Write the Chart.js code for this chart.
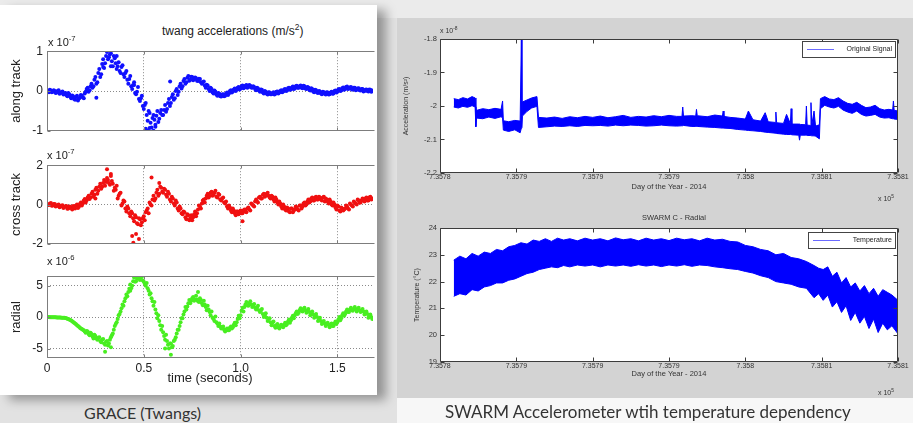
<!DOCTYPE html>
<html lang="en">
<head>
<meta charset="UTF-8">
<title>GRACE twangs and SWARM accelerometer</title>
<script src="https://cdn.jsdelivr.net/npm/chart.js"></script>
<style>
  body { margin: 0; width: 913px; height: 423px; position: relative; overflow: hidden;
         background: #e2e2e2; font-family: "Liberation Sans", Arial, sans-serif; }
  .topband { position: absolute; left: 0; top: 0; width: 913px; height: 18px; background: #ebebeb; }
  .card { position: absolute; left: 0; top: 5px; width: 377px; height: 390px; background: #fff;
          box-shadow: 9px 5px 10px rgba(0,0,0,0.35); }
  .panel { position: absolute; left: 397px; top: 18px; width: 516px; height: 380px; background: #d3d3d3; }
  .lowright { position: absolute; left: 397px; top: 398px; width: 516px; height: 25px; background: #f7f7f7; }
  canvas { position: absolute; }
  .txt { position: absolute; white-space: nowrap; color: #222; line-height: 1; }
  .txt sup { font-size: 70%; vertical-align: 0.6em; line-height: 0; }
  .cap { position: absolute; white-space: nowrap; color: #333; font-family: Lato, "Open Sans", sans-serif; }
</style>
</head>
<body>
<div class="topband"></div>
<div class="card"></div>
<div class="panel"></div>
<div class="lowright"></div>

<canvas id="cAlong" width="377" height="102" style="left:0;top:40px"></canvas>
<canvas id="cCross" width="377" height="101" style="left:0;top:154px"></canvas>
<canvas id="cRadial" width="377" height="130" style="left:0;top:265px"></canvas>
<canvas id="cAcc" width="516" height="192" style="left:397px;top:18px"></canvas>
<canvas id="cTemp" width="516" height="188" style="left:397px;top:210px"></canvas>

<div class="txt" style="left:162px;top:25px;font-size:12px">twang accelerations (m/s<sup>2</sup>)</div>
<div class="txt" style="left:48px;top:37px;font-size:11px">x 10<sup>-7</sup></div>
<div class="txt" style="left:47px;top:150px;font-size:11px">x 10<sup>-7</sup></div>
<div class="txt" style="left:47px;top:256px;font-size:11px">x 10<sup>-6</sup></div>
<div class="txt" style="left:440px;top:27px;font-size:7px;color:#333">x 10<sup>-8</sup></div>
<div class="txt" style="left:878px;top:195px;font-size:7px;color:#333">x 10<sup>5</sup></div>
<div class="txt" style="left:642px;top:214px;font-size:7.5px;color:#333">SWARM C - Radial</div>
<div class="txt" style="left:878px;top:389px;font-size:7px;color:#333">x 10<sup>5</sup></div>
<div class="cap" style="left:84px;top:403px;font-size:16px">GRACE (Twangs)</div>
<div class="cap" style="left:445px;top:401px;font-size:17px">SWARM Accelerometer wtih temperature dependency</div>

<script>
// ---- GRACE twangs (units of the x10^n label) ----
// main samples every 0.01 s, second pass at the half steps
const sampleStep = 0.01;
const timeRange = [0, 1.684];
const timeTicks = [0, 0.5, 1, 1.5];

const along = [
  0.02,-0.03,0.01,-0.02,0.00,-0.04,0.02,-0.05,-0.01,-0.06,
  -0.10,-0.05,-0.14,-0.11,-0.20,-0.15,-0.24,-0.17,-0.12,-0.18,
  -0.02,0.08,0.02,0.18,0.12,0.35,0.22,0.55,0.42,0.80,
  0.70,0.98,0.85,0.95,0.62,0.82,0.55,0.72,0.45,0.65,
  0.35,0.50,0.18,0.38,0.05,0.22,-0.08,0.10,-0.25,-0.12,
  -0.45,-0.30,-0.75,-0.55,-0.92,-0.60,-0.85,-0.50,-0.70,-0.48,
  -0.60,-0.35,-0.45,-0.20,-0.30,-0.08,-0.18,0.05,-0.02,0.18,
  0.12,0.30,0.22,0.38,0.28,0.35,0.30,0.32,0.25,0.30,
  0.18,0.24,0.08,0.14,0.00,0.05,-0.06,-0.02,-0.12,-0.07,
  -0.14,-0.08,-0.12,-0.04,-0.06,0.02,-0.01,0.06,0.03,0.10,
  0.06,0.14,0.09,0.15,0.10,0.13,0.08,0.10,0.02,0.06,
  -0.02,0.03,-0.06,-0.02,-0.09,-0.04,-0.08,-0.03,-0.07,-0.01,
  -0.04,0.02,-0.01,0.05,0.01,0.08,0.04,0.11,0.06,0.13,
  0.08,0.14,0.07,0.12,0.05,0.09,0.01,0.05,-0.03,0.02,
  -0.05,-0.01,-0.08,-0.03,-0.09,-0.04,-0.08,-0.02,-0.06,0.01,
  -0.02,0.05,0.01,0.09,0.05,0.11,0.06,0.10,0.04,0.08,
  0.03,0.07,0.01,0.05,0.00,0.04,-0.01,0.03,0.01
];
const alongHalf = [
  -0.01,0.03,-0.03,0.02,-0.05,0.00,-0.07,-0.03,-0.09,-0.05,
  -0.13,-0.08,-0.18,-0.13,-0.22,-0.12,-0.19,-0.10,-0.16,-0.06,
  0.05,-0.02,0.12,0.08,0.28,0.18,0.45,0.35,0.68,0.58,
  0.88,0.80,0.92,0.75,0.88,0.70,0.62,0.50,0.60,0.42,
  0.45,0.28,0.30,0.12,0.15,-0.05,-0.02,-0.20,-0.18,-0.38,
  -0.35,-0.60,-0.50,-0.80,-0.68,-0.72,-0.62,-0.78,-0.55,-0.60,
  -0.48,-0.52,-0.30,-0.38,-0.15,-0.22,0.00,-0.10,0.12,0.06,
  0.25,0.18,0.33,0.26,0.36,0.27,0.34,0.26,0.31,0.22,
  0.22,0.14,0.16,0.05,0.08,-0.03,0.01,-0.09,-0.05,-0.13,
  -0.09,-0.13,-0.06,-0.10,0.00,-0.04,0.04,0.00,0.08,0.04,
  0.12,0.07,0.13,0.08,0.15,0.09,0.12,0.05,0.08,0.01,
  0.04,-0.04,0.00,-0.07,-0.03,-0.08,-0.05,-0.09,-0.02,-0.06,
  0.00,-0.03,0.04,0.00,0.07,0.03,0.09,0.05,0.12,0.08,
  0.12,0.08,0.13,0.06,0.10,0.03,0.07,-0.01,0.03,-0.04,
  0.00,-0.06,-0.02,-0.07,-0.03,-0.09,-0.04,-0.07,0.00,-0.04,
  0.04,0.00,0.07,0.03,0.10,0.05,0.09,0.04,0.08,0.02,
  0.06,0.02,0.05,-0.01,0.03,0.00,0.04,-0.02
];
const alongOutT = [0.255, 0.29, 0.33, 0.36, 0.45, 0.51, 0.52, 0.53, 0.55, 0.56, 0.636];
const alongOutV = [-0.17, 0.60, 0.62, 0.88, 0.15, -0.95, -1.00, -0.93, -1.00, -0.90, 0.24];

const cross = [
  0.05,-0.02,0.08,-0.05,0.02,-0.08,0.00,-0.10,-0.04,-0.12,
  -0.08,-0.20,-0.12,-0.25,-0.15,-0.05,-0.18,0.02,-0.05,0.20,
  0.10,0.35,0.28,0.55,0.40,0.75,0.55,0.90,0.80,1.10,
  0.95,1.35,1.10,1.45,1.05,0.85,0.95,0.45,0.60,0.05,
  0.15,-0.35,-0.20,-0.60,-0.45,-0.85,-0.65,-1.00,-0.75,-0.90,
  -0.60,-0.40,-0.20,0.10,-0.05,0.45,0.30,0.75,0.55,0.85,
  0.60,0.75,0.40,0.55,0.15,0.30,-0.05,0.10,-0.30,-0.20,
  -0.50,-0.40,-0.75,-0.55,-0.70,-0.80,-0.50,-0.60,-0.25,-0.10,
  0.05,0.25,0.30,0.55,0.45,0.65,0.50,0.70,0.35,0.50,
  0.20,0.35,0.05,-0.10,-0.05,-0.30,-0.20,-0.45,-0.35,-0.50,
  -0.30,-0.45,-0.25,-0.40,-0.15,-0.30,0.00,-0.10,0.25,0.10,
  0.40,0.30,0.55,0.45,0.60,0.35,0.45,0.25,0.35,0.10,
  0.15,-0.10,0.00,-0.25,-0.15,-0.35,-0.20,-0.40,-0.25,-0.15,
  -0.30,-0.05,-0.10,0.10,0.00,0.25,0.15,0.35,0.20,0.40,
  0.25,0.35,0.20,0.40,0.30,0.15,0.25,0.00,0.10,-0.15,
  -0.05,-0.30,-0.15,-0.30,-0.20,-0.10,-0.25,0.00,-0.10,0.10,
  0.00,0.20,0.10,0.30,0.15,0.35,0.20,0.40,0.30
];
const crossHalf = [
  -0.03,0.04,-0.06,0.03,-0.10,-0.02,-0.14,-0.06,-0.18,-0.10,
  -0.22,-0.10,-0.18,-0.08,-0.20,0.00,-0.12,0.10,0.05,0.28,
  0.22,0.45,0.35,0.65,0.50,0.85,0.70,1.05,0.90,1.25,
  1.15,1.25,1.00,1.20,0.70,0.75,0.30,0.55,-0.05,0.20,
  -0.20,-0.10,-0.45,-0.35,-0.70,-0.55,-0.95,-0.70,-1.05,-0.70,
  -0.80,-0.30,-0.45,0.00,0.25,0.20,0.60,0.45,0.90,0.65,
  0.80,0.50,0.65,0.25,0.40,0.05,0.20,-0.20,-0.10,-0.45,
  -0.35,-0.65,-0.50,-0.80,-0.55,-0.65,-0.35,-0.45,-0.05,-0.20,
  0.20,0.10,0.45,0.35,0.60,0.45,0.60,0.40,0.55,0.25,
  0.30,0.10,0.15,-0.20,-0.15,-0.40,-0.30,-0.55,-0.35,-0.40,
  -0.45,-0.30,-0.35,-0.20,-0.25,0.05,-0.05,0.15,0.15,0.35,
  0.30,0.50,0.40,0.55,0.45,0.30,0.40,0.15,0.25,0.00,
  0.05,-0.20,-0.10,-0.30,-0.20,-0.40,-0.20,-0.30,-0.10,-0.25,
  -0.05,-0.20,0.05,-0.05,0.15,0.10,0.30,0.20,0.35,0.25,
  0.40,0.25,0.35,0.15,0.25,0.05,0.15,-0.05,0.00,-0.25,
  -0.10,-0.35,-0.20,-0.25,-0.05,-0.20,0.05,-0.05,0.15,0.05,
  0.25,0.10,0.20,0.25,0.30,0.20,0.35,0.25
];
const crossOutT = [0.25, 0.31, 0.33, 0.44, 0.446, 0.46, 0.475, 0.54, 0.58, 1.01];
const crossOutV = [0.30, 1.80, 1.55, -1.60, -1.95, -1.50, -1.75, 1.38, 1.10, -0.85];

const radial = [
  0.00,0.00,-0.02,-0.02,-0.03,-0.05,-0.05,-0.08,-0.10,-0.12,
  -0.20,-0.30,-0.45,-0.65,-0.90,-1.15,-1.40,-1.70,-1.90,-2.10,
  -2.50,-2.30,-2.90,-2.70,-3.40,-3.00,-3.60,-3.20,-4.00,-3.50,
  -4.40,-3.80,-4.20,-3.20,-2.60,-1.40,-0.80,0.30,0.90,2.00,
  2.50,3.60,4.00,5.20,5.00,6.30,5.70,6.50,5.90,6.40,
  5.60,5.00,4.60,3.60,3.00,1.80,1.20,-0.20,-0.60,-2.00,
  -2.40,-3.60,-3.80,-5.00,-4.20,-4.60,-3.60,-2.60,-2.00,-0.80,
  -0.20,0.90,1.20,2.20,2.20,3.00,2.60,3.40,2.50,3.00,
  2.20,2.60,1.60,1.80,0.80,0.90,-0.30,0.10,-1.00,-1.00,
  -1.80,-1.50,-2.30,-1.80,-2.10,-1.50,-1.60,-0.90,-0.80,0.20,
  0.30,1.50,1.60,2.40,1.80,2.50,1.60,2.10,1.20,1.80,
  0.80,1.30,0.00,0.60,-0.60,-0.20,-1.30,-0.70,-1.70,-1.10,
  -1.80,-1.20,-1.60,-0.90,-1.10,-0.40,-0.50,0.20,0.30,0.90,
  0.70,1.40,0.90,1.50,0.70,1.30,0.30,0.90,-0.10,0.50,
  -0.60,-0.10,-1.10,-0.60,-1.40,-0.90,-1.60,-1.00,-1.40,-0.70,
  -0.80,0.00,-0.20,0.60,0.50,1.20,0.80,1.50,1.00,1.60,
  0.90,1.50,0.80,1.30,0.40,0.90,-0.10,0.40,-0.30
];
const radialHalf = [
  0.00,-0.01,-0.01,-0.03,-0.04,-0.05,-0.07,-0.09,-0.11,-0.15,
  -0.25,-0.38,-0.55,-0.78,-1.02,-1.28,-1.55,-1.80,-2.00,-2.30,
  -2.20,-2.70,-2.50,-3.10,-2.80,-3.40,-3.30,-3.80,-3.60,-4.20,
  -3.90,-4.50,-3.60,-2.90,-2.00,-1.10,-0.30,0.50,1.40,1.80,
  3.00,3.30,4.50,4.60,5.70,5.60,6.10,6.20,6.30,5.80,
  5.30,5.40,4.20,3.80,2.50,2.40,0.60,0.30,-1.30,-1.40,
  -3.00,-2.80,-4.40,-4.20,-4.80,-3.80,-3.20,-2.00,-1.40,-0.20,
  0.40,1.60,1.70,2.70,2.60,3.20,2.80,2.80,2.40,2.70,
  1.90,2.00,1.10,1.20,0.30,-0.10,-0.60,-0.80,-1.40,-1.50,
  -1.60,-2.00,-2.00,-2.10,-1.70,-1.80,-1.20,-1.30,-0.30,-0.20,
  1.00,0.90,2.00,1.90,2.20,2.00,1.90,1.50,1.50,1.10,
  1.00,0.50,0.30,-0.10,-0.30,-0.80,-0.90,-1.40,-1.30,-1.60,
  -1.40,-1.50,-1.20,-1.30,-0.70,-0.90,-0.10,-0.20,0.60,0.50,
  1.10,1.00,1.30,1.10,1.00,0.80,0.60,0.40,0.20,0.00,
  -0.40,-0.60,-0.80,-1.00,-1.10,-1.20,-1.30,-1.40,-1.00,-1.10,
  -0.40,-0.50,0.30,0.20,0.90,0.80,1.20,1.10,1.30,1.30,
  1.20,1.10,1.00,0.90,0.60,0.50,0.10,0.00
];
const radialOutT = [0.30, 0.33, 0.43, 0.61, 0.64, 0.78];
const radialOutV = [-5.50, -4.80, 4.20, -5.00, -6.00, 4.00];

// ---- SWARM C, day of year as datenum minus 735000 ----
const dayTicks = [780, 785, 790, 795, 800, 805, 810];
const dayTickLabels = ['7.3578', '7.3579', '7.3579', '7.3579', '7.358', '7.3581', '7.3581'];

const accDays = [
  780.9, 781.2, 781.5, 781.8, 782.1, 782.3,
  782.35, 782.4, 782.8, 783.2, 783.6, 784.0, 784.1,
  784.15, 784.5, 784.9, 785.25, 785.33, 785.37,
  785.4, 785.7, 786.0, 786.35,
  786.45, 787.0, 787.5, 788.0, 788.5, 789.0, 789.5, 790.0, 790.5, 791.0,
  791.5, 792.0, 792.5, 793.0, 793.5, 794.0, 794.5, 795.0, 795.5, 795.85,
  795.9, 795.95, 796.5, 796.75, 796.8, 796.85, 797.5, 798.0, 798.5, 798.55,
  798.6, 799.0, 799.5, 800.0, 800.2, 800.5, 801.0, 801.3, 801.5, 801.95,
  802.0, 802.05, 802.5, 802.7, 802.95, 803.0, 803.05, 803.5, 803.55, 803.6,
  803.95, 804.0, 804.05, 804.25, 804.3, 804.35, 804.5, 804.6, 804.85,
  804.92, 805.2, 805.5, 805.8, 806.1, 806.4, 806.7, 807.0, 807.3, 807.6,
  807.9, 808.2, 808.5, 808.8, 809.1, 809.4, 809.65, 809.7, 809.75, 810.0
];
const accHigh = [
  -1.978, -1.981, -1.975, -1.979, -1.972, -1.976,
  -2.012, -2.013, -2.008, -2.011, -2.007, -2.010, -1.985,
  -2.044, -2.047, -2.043, -2.045, -1.800, -2.020,
  -1.988, -1.982, -1.976, -1.972,
  -2.034, -2.036, -2.033, -2.037, -2.032, -2.035, -2.031, -2.034, -2.030, -2.035,
  -2.032, -2.028, -2.034, -2.031, -2.033, -2.029, -2.032, -2.028, -2.031, -2.031,
  -2.003, -2.030, -2.029, -2.030, -2.010, -2.029, -2.032, -2.027, -2.030, -2.015,
  -2.031, -2.034, -2.036, -2.039, -2.015, -2.041, -2.045, -2.020, -2.047, -2.049,
  -2.018, -2.050, -2.052, -2.025, -2.053, -2.008, -2.054, -2.054, -2.054, -2.055,
  -2.056, -2.000, -2.057, -2.058, -1.990, -2.058, -2.015, -2.060, -2.056,
  -1.978, -1.972, -1.979, -1.981, -1.975, -1.985, -1.992, -1.995, -1.989, -1.998,
  -2.005, -2.003, -1.998, -2.008, -2.012, -2.010, -2.012, -1.985, -2.013, -2.015
];
const accLow = [
  -2.003, -2.006, -2.001, -2.004, -1.999, -2.003,
  -2.062, -2.036, -2.038, -2.033, -2.037, -2.032, -2.036,
  -2.072, -2.076, -2.071, -2.080, -2.066, -2.064,
  -2.030, -2.016, -2.006, -2.001,
  -2.064, -2.062, -2.060, -2.061, -2.059, -2.061, -2.058, -2.059, -2.058, -2.060,
  -2.057, -2.059, -2.057, -2.058, -2.060, -2.059, -2.057, -2.059, -2.060, -2.059,
  -2.059, -2.058, -2.061, -2.061, -2.061, -2.061, -2.063, -2.064, -2.066, -2.066,
  -2.066, -2.067, -2.070, -2.072, -2.073, -2.074, -2.076, -2.078, -2.079, -2.081,
  -2.081, -2.082, -2.084, -2.085, -2.085, -2.085, -2.086, -2.087, -2.102, -2.087,
  -2.087, -2.087, -2.088, -2.088, -2.088, -2.089, -2.089, -2.090, -2.098,
  -2.008, -1.998, -2.003, -2.006, -2.001, -2.012, -2.018, -2.022, -2.015, -2.025,
  -2.030, -2.028, -2.025, -2.033, -2.036, -2.035, -2.038, -2.038, -2.039, -2.040
];
const accTicks = [-2.2, -2.1, -2, -1.9, -1.8];

const tempDays = [
  780.9, 781.3, 781.7, 782.1, 782.5, 782.9, 783.3, 783.7, 784.1, 784.5,
  784.9, 785.3, 785.7, 786.1, 786.5, 786.9, 787.3, 787.7, 788.1, 788.5,
  789.0, 789.5, 790.0, 790.5, 791.0, 791.5, 792.0, 792.5, 793.0, 793.5,
  794.0, 794.5, 795.0, 795.5, 796.0, 796.5, 797.0, 797.5, 798.0, 798.5,
  799.0, 799.5, 800.0, 800.5, 801.0, 801.5, 802.0, 802.5, 803.0, 803.5,
  804.0, 804.5, 804.8, 805.1, 805.4, 805.7, 806.0, 806.3, 806.6, 806.9,
  807.2, 807.5, 807.8, 808.1, 808.4, 808.7, 809.0, 809.3, 809.6, 810.0
];
const tempHigh = [
  22.80, 22.95, 22.85, 23.05, 22.95, 23.10, 23.05, 23.20, 23.15, 23.30,
  23.35, 23.45, 23.40, 23.55, 23.50, 23.60, 23.50, 23.62, 23.55, 23.60,
  23.52, 23.62, 23.55, 23.60, 23.52, 23.63, 23.56, 23.60, 23.52, 23.62,
  23.55, 23.60, 23.53, 23.62, 23.56, 23.60, 23.52, 23.62, 23.55, 23.58,
  23.50, 23.48, 23.35, 23.30, 23.20, 23.15, 23.00, 23.05, 22.90, 22.85,
  22.75, 22.60, 22.50, 22.45, 22.55, 22.20, 22.35, 21.95, 22.15, 21.80,
  21.95, 21.65, 21.85, 21.55, 21.75, 21.45, 21.70, 21.60, 21.50, 21.30
];
const tempLow = [
  21.45, 21.55, 21.50, 21.70, 21.65, 21.80, 21.85, 21.95, 21.95, 22.05,
  22.10, 22.20, 22.30, 22.35, 22.45, 22.50, 22.55, 22.52, 22.60, 22.55,
  22.62, 22.58, 22.62, 22.55, 22.62, 22.58, 22.62, 22.57, 22.63, 22.58,
  22.62, 22.56, 22.62, 22.58, 22.63, 22.57, 22.62, 22.60, 22.55, 22.52,
  22.48, 22.45, 22.38, 22.32, 22.22, 22.15, 22.00, 21.95, 21.90, 21.80,
  21.75, 21.40, 21.55, 21.30, 21.50, 21.05, 21.25, 20.85, 21.10, 20.55,
  20.85, 20.45, 20.70, 20.25, 20.60, 20.10, 20.45, 20.20, 20.35, 20.05
];
const tempTicks = [19, 20, 21, 22, 23, 24];

Chart.defaults.font.family = '"Liberation Sans", Arial, sans-serif';

// MATLAB-like box with inward tick marks, plus white plot background
const frame = {
  id: 'frame',
  beforeDraw(chart) {
    const {ctx, chartArea: a} = chart;
    ctx.save();
    ctx.fillStyle = '#fff';
    ctx.fillRect(a.left, a.top, a.right - a.left, a.bottom - a.top);
    ctx.restore();
  },
  afterDatasetsDraw(chart, args, o) {
    const {ctx, chartArea: a, scales: {x, y}} = chart;
    const L = Math.round(a.left) + 0.5, R = Math.round(a.right) - 0.5;
    const T = Math.round(a.top) + 0.5, B = Math.round(a.bottom) - 0.5;
    ctx.save();
    ctx.strokeStyle = o.color;
    ctx.lineWidth = 1;
    ctx.beginPath();
    ctx.moveTo(R + (o.right ? 0 : 2), T); ctx.lineTo(L, T); ctx.lineTo(L, B); ctx.lineTo(R + (o.right ? 0 : 2), B);
    if (o.right) { ctx.lineTo(R, T); }
    x.ticks.forEach(t => {
      const px = Math.round(x.getPixelForValue(t.value)) + 0.5;
      ctx.moveTo(px, B); ctx.lineTo(px, B - o.tick);
      ctx.moveTo(px, T); ctx.lineTo(px, T + o.tick);
    });
    y.ticks.forEach(t => {
      const py = Math.round(y.getPixelForValue(t.value)) + 0.5;
      ctx.moveTo(L, py); ctx.lineTo(L + o.tick, py);
      if (o.right) { ctx.moveTo(R, py); ctx.lineTo(R - o.tick, py); }
    });
    ctx.stroke();
    ctx.restore();
  }
};

// boxed legend in the top right corner of the plot
const boxLegend = {
  id: 'boxLegend',
  afterDraw(chart, args, o) {
    if (!o.width) return;
    const {ctx, chartArea: a} = chart;
    const x2 = Math.round(a.right) - o.dx, x1 = x2 - o.width;
    const y1 = Math.round(a.top) + o.dy, h = 16, ym = y1 + h / 2;
    ctx.save();
    ctx.fillStyle = '#fff';
    ctx.fillRect(x1, y1, o.width, h);
    ctx.strokeStyle = '#444';
    ctx.lineWidth = 1;
    ctx.strokeRect(x1 + 0.5, y1 + 0.5, o.width, h);
    ctx.strokeStyle = '#6a6aff';
    ctx.beginPath();
    ctx.moveTo(x1 + o.lineStart, ym + 0.5);
    ctx.lineTo(x1 + o.lineStart + 27, ym + 0.5);
    ctx.stroke();
    ctx.fillStyle = '#222';
    ctx.font = '7px "Liberation Sans", Arial, sans-serif';
    ctx.textAlign = 'right';
    ctx.textBaseline = 'middle';
    ctx.fillText(chart.data.datasets[0].label, x2 - 3, ym + 0.5);
    ctx.restore();
  }
};

function graceChart(id, values, halfValues, outT, outV, color, yTicks, yRange, yTitle, withTime, xHeight) {
  const points = values.map((v, i) => ({x: i * sampleStep, y: v}));
  const halfPoints = halfValues.map((v, i) => ({x: (i + 0.5) * sampleStep, y: v}));
  const outliers = outT.map((t, i) => ({x: t, y: outV[i]}));
  const dot = {backgroundColor: color, borderWidth: 0, pointRadius: 2};
  return new Chart(document.getElementById(id), {
    type: 'scatter',
    data: {
      datasets: [
        {data: points, ...dot},
        {data: halfPoints, ...dot},
        {data: outliers, ...dot}
      ]
    },
    options: {
      responsive: false,
      animation: false,
      layout: {padding: {top: 8, right: 0, bottom: 0, left: 0}},
      plugins: {
        legend: {display: false},
        tooltip: {enabled: false},
        frame: {color: '#7d7d7d', tick: 3, right: false},
        boxLegend: {width: 0}
      },
      scales: {
        x: {
          type: 'linear',
          min: timeRange[0],
          max: timeRange[1],
          afterBuildTicks: s => { s.ticks = timeTicks.map(v => ({value: v})); },
          afterFit: s => { s.height = xHeight; },
          grid: {color: '#8a8a8a', drawTicks: false},
          border: {display: false, dash: [1, 2]},
          ticks: {display: withTime, padding: 3, color: '#222', font: {size: 12}},
          title: {display: withTime, text: 'time (seconds)', color: '#222', font: {size: 13},
                  padding: {top: 0, bottom: 9}}
        },
        y: {
          min: yRange[0],
          max: yRange[1],
          afterBuildTicks: s => { s.ticks = yTicks.map(v => ({value: v})); },
          afterFit: s => { s.width = 47; },
          grid: {color: '#8a8a8a', drawTicks: false},
          border: {display: false, dash: [1, 2]},
          ticks: {padding: 4, color: '#222', font: {size: 12}, callback: v => String(v)},
          title: {display: true, text: yTitle, color: '#222', font: {size: 13}, padding: {top: 9}}
        }
      }
    },
    plugins: [frame, boxLegend]
  });
}

function swarmChart(id, days, high, low, label, yTicks, yRange, yTitle, g) {
  const upper = days.map((d, i) => ({x: d, y: high[i]}));
  const lower = days.map((d, i) => ({x: d, y: low[i]}));
  return new Chart(document.getElementById(id), {
    type: 'line',
    data: {
      datasets: [
        {label: label, data: upper, borderColor: '#0000ff', backgroundColor: '#0000ff',
         borderWidth: 1, pointRadius: 0, tension: 0, fill: '+1'},
        {label: '', data: lower, borderColor: '#0000ff', borderWidth: 1, pointRadius: 0,
         tension: 0, fill: false}
      ]
    },
    options: {
      responsive: false,
      animation: false,
      layout: {padding: {top: g.padTop, right: 15, bottom: 0, left: 0}},
      plugins: {
        legend: {display: false},
        tooltip: {enabled: false},
        frame: {color: '#3c3c3c', tick: 4, right: true},
        boxLegend: {width: g.legendWidth, dx: 3, dy: g.legendDy, lineStart: g.lineStart}
      },
      scales: {
        x: {
          type: 'linear',
          min: dayTicks[0],
          max: dayTicks[dayTicks.length - 1],
          afterBuildTicks: s => { s.ticks = dayTicks.map(v => ({value: v})); },
          afterFit: s => { s.height = g.xHeight; },
          grid: {display: false, drawTicks: false},
          border: {display: false},
          ticks: {padding: g.xTickPad, color: '#333', font: {size: 7}, autoSkip: false, maxRotation: 0,
                  callback: (v, i) => dayTickLabels[i]},
          title: {display: true, text: 'Day of the Year - 2014', color: '#333', font: {size: 7.5},
                  padding: {top: 0, bottom: g.xTitlePad}}
        },
        y: {
          min: yRange[0],
          max: yRange[1],
          afterBuildTicks: s => { s.ticks = yTicks.map(v => ({value: v})); },
          afterFit: s => { s.width = 43; },
          grid: {display: false, drawTicks: false},
          border: {display: false},
          ticks: {padding: 3, color: '#333', font: {size: 7.5}, callback: v => String(v)},
          title: {display: true, text: yTitle, color: '#333', font: {size: 7},
                  padding: {top: g.yTitlePad}}
        }
      }
    },
    plugins: [frame, boxLegend]
  });
}

graceChart('cAlong', along, alongHalf, alongOutT, alongOutV, '#1010ff', [-1, 0, 1], [-1, 1], 'along track', false, 9);
graceChart('cCross', cross, crossHalf, crossOutT, crossOutV, '#f01010', [-2, 0, 2], [-2, 2], 'cross track', false, 9);
graceChart('cRadial', radial, radialHalf, radialOutT, radialOutV, '#48ee20', [-5, 0, 5], [-6.5, 6.5], 'radial', true, 37);

swarmChart('cAcc', accDays, accHigh, accLow, 'Original Signal', accTicks, [-2.2, -1.8],
  'Acceleration (m/s²)',
  {padTop: 21, xHeight: 37, xTickPad: 0, xTitlePad: 19, yTitlePad: 5, legendWidth: 93, legendDy: 2, lineStart: 5});
swarmChart('cTemp', tempDays, tempHigh, tempLow, 'Temperature', tempTicks, [19, 24],
  'Temperature (°C)',
  {padTop: 18, xHeight: 36, xTickPad: 0, xTitlePad: 20, yTitlePad: 16, legendWidth: 87, legendDy: 4, lineStart: 5});
</script>
</body>
</html>
